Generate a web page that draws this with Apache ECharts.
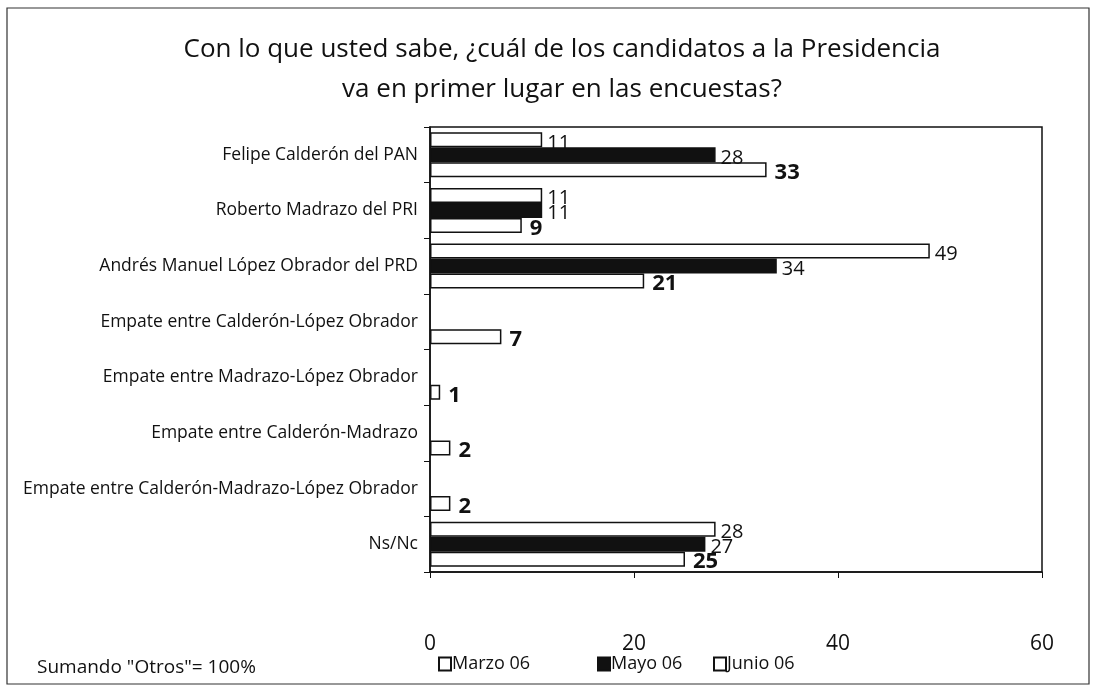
<!DOCTYPE html>
<html>
<head>
<meta charset="utf-8">
<script src="https://cdn.jsdelivr.net/npm/echarts@6/dist/echarts.min.js"></script>
<style>
  html, body { margin: 0; padding: 0; background: #fff; }
  #chart { width: 1099px; height: 691px; }
</style>
</head>
<body>
<div id="chart"></div>
<script>
const categories = [
  'Felipe Calderón del PAN',
  'Roberto Madrazo del PRI',
  'Andrés Manuel López Obrador del PRD',
  'Empate entre Calderón-López Obrador',
  'Empate entre Madrazo-López Obrador',
  'Empate entre Calderón-Madrazo',
  'Empate entre Calderón-Madrazo-López Obrador',
  'Ns/Nc'
];
const marzo = [11, 11, 49, null, null, null, null, 28];
const mayo = [28, 11, 34, null, null, null, null, 27];
const junio = [33, 9, 21, 7, 1, 2, 2, 25];
const xTicks = [0, 20, 40, 60];

const font = '"Open Sans", sans-serif';
const ink = '#111';

function barSeries(name, data, fill, bold) {
  return {
    type: 'bar',
    name: name,
    data: data,
    barWidth: 15,
    barGap: '0%',
    itemStyle: { color: fill, borderColor: ink, borderWidth: 1.5 },
    label: {
      show: true,
      position: 'right',
      distance: bold ? 8 : 5,
      offset: [0, 3],
      color: ink,
      fontFamily: font,
      fontSize: bold ? 22 : 20,
      fontWeight: bold ? 'bold' : 'normal'
    }
  };
}

function legendAt(name, left) {
  return {
    data: [name],
    left: left,
    top: 655,
    icon: 'rect',
    itemWidth: 12,
    itemHeight: 13,
    itemGap: 0,
    padding: 0,
    textStyle: { color: ink, fontFamily: font, fontSize: 18, padding: [0, 0, 0, -4] }
  };
}

const chart = echarts.init(document.getElementById('chart'));
chart.setOption({
  animation: false,
  backgroundColor: '#fff',
  title: [
    {
      text: 'Con lo que usted sabe, ¿cuál de los candidatos a la Presidencia\nva en primer lugar en las encuestas?',
      left: 557,
      top: 25,
      textAlign: 'center',
      textStyle: { color: ink, fontFamily: font, fontSize: 26, fontWeight: 'normal', lineHeight: 40 }
    },
    {
      text: 'Sumando "Otros"= 100%',
      left: 32,
      top: 653,
      textStyle: { color: ink, fontFamily: font, fontSize: 19, fontWeight: 'normal' }
    }
  ],
  legend: [
    legendAt('Marzo 06', 438),
    legendAt('Mayo 06', 597),
    legendAt('Junio 06', 713)
  ],
  graphic: [
    {
      type: 'rect',
      shape: { x: 7, y: 8, width: 1082, height: 676 },
      style: { fill: 'none', stroke: '#333', lineWidth: 1.2 },
      silent: true
    }
  ],
  grid: {
    left: 430,
    right: 57,
    top: 127,
    bottom: 119,
    show: true,
    borderColor: ink,
    borderWidth: 1.5,
    backgroundColor: 'transparent'
  },
  xAxis: {
    type: 'value',
    min: xTicks[0],
    max: xTicks[xTicks.length - 1],
    interval: 20,
    splitLine: { show: false },
    axisLine: { show: true, lineStyle: { color: ink, width: 1.5 } },
    axisTick: { show: true, length: 6, lineStyle: { color: ink } },
    axisLabel: { color: ink, fontFamily: font, fontSize: 21, margin: 62 }
  },
  yAxis: {
    type: 'category',
    inverse: true,
    data: categories,
    axisLine: { show: true, lineStyle: { color: ink, width: 1.5 } },
    axisTick: { show: true, length: 6, lineStyle: { color: ink } },
    axisLabel: { color: ink, fontFamily: font, fontSize: 17.5, margin: 12 }
  },
  series: [
    barSeries('Marzo 06', marzo, '#fff', false),
    barSeries('Mayo 06', mayo, ink, false),
    barSeries('Junio 06', junio, '#fff', true)
  ]
});
</script>
</body>
</html>
